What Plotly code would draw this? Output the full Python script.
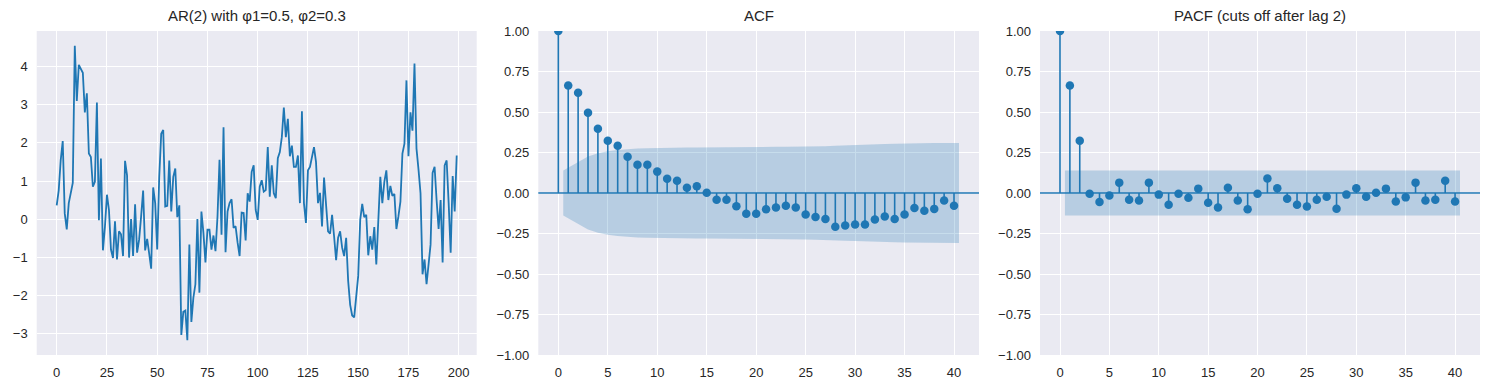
import plotly.graph_objects as go

# ---------------- data ----------------
series = [
    0.36, 0.75, 1.55, 2.05, 0.15, -0.27, 0.42, 0.65, 0.95, 4.55,
    3.10, 4.05, 3.93, 3.84, 2.80, 3.30, 1.72, 1.63, 0.85, 0.98,
    3.06, -0.03, 1.59, -0.82, -0.20, 0.64, 0.24, -0.80, -1.02, -0.06,
    -1.06, -0.32, -0.40, -0.97, 1.53, 1.15, -1.01, 0.00, -0.97, 0.39,
    -0.88, -0.54, 0.07, 0.75, -0.82, -0.52, -0.90, -1.30, 0.83, 0.42,
    -0.80, 1.10, 2.24, 2.34, 0.33, 0.35, 1.54, 0.20, 1.11, 1.33,
    0.05, 0.36, -3.04, -2.43, -2.40, -3.18, -0.67, -2.70, -2.06, -1.71,
    0.00, -1.93, 0.20, -0.36, -1.14, -0.28, -0.28, -0.80, -0.43, -0.84,
    0.07, 1.56, -0.41, 2.41, -0.87, 0.20, 0.42, 0.52, -0.23, -0.19,
    -0.62, -0.97, 0.17, 0.16, -0.56, 0.68, 0.46, 1.24, 1.41, 0.24,
    -0.02, 0.85, 1.02, 0.72, 0.76, 1.89, 0.59, 1.41, 0.68, 0.55,
    1.60, 1.76, 2.15, 2.93, 2.15, 2.63, 1.65, 1.93, 1.37, 1.37,
    1.67, 0.42, 2.83, 0.42, -0.10, 1.28, 1.37, 1.63, 1.89, 1.50,
    0.42, 0.69, -0.19, 1.09, 0.33, -0.32, -0.38, 0.11, -0.45, -1.08,
    -0.49, -0.32, -0.75, -0.97, -0.49, -1.62, -2.25, -2.53, -2.58, -2.00,
    -1.49, -0.02, 0.40, 0.05, 0.11, -0.95, -0.45, -0.80, -0.21, -1.19,
    -0.10, 1.11, 0.42, 0.98, 1.28, 0.50, 0.87, 0.61, 0.66, -0.26,
    0.07, 0.46, 1.72, 1.98, 3.64, 1.65, 2.80, 2.32, 4.08, 1.85,
    1.30, 0.68, -1.45, -1.06, -1.71, -1.14, -0.67, 1.21, 1.37, 0.50,
    -0.26, 0.50, -1.14, 1.41, 1.54, 0.42, -0.88, 1.13, 0.20, 1.67,
]

lags = list(range(41))

acf_vals = [
    1.0, 0.663, 0.619, 0.496, 0.397, 0.323, 0.292, 0.224, 0.175, 0.175,
    0.132, 0.088, 0.076, 0.033, 0.041, 0.002, -0.041, -0.041, -0.082, -0.128,
    -0.128, -0.100, -0.090, -0.078, -0.090, -0.133, -0.148, -0.160, -0.209, -0.200,
    -0.195, -0.195, -0.164, -0.145, -0.160, -0.133, -0.092, -0.109, -0.098, -0.047,
    -0.078,
]
# half-width of the ACF confidence band for lags 1..40
acf_band = [
    0.139, 0.190, 0.225, 0.246, 0.258, 0.265, 0.271, 0.275, 0.277, 0.279,
    0.280, 0.281, 0.281, 0.281, 0.281, 0.281, 0.282, 0.282, 0.282, 0.283,
    0.284, 0.285, 0.286, 0.286, 0.287, 0.288, 0.289, 0.291, 0.294, 0.296,
    0.299, 0.301, 0.303, 0.304, 0.306, 0.307, 0.308, 0.308, 0.309, 0.309,
]

pacf_vals = [
    1.0, 0.663, 0.323, -0.004, -0.056, -0.016, 0.064, -0.041, -0.047, 0.064,
    -0.010, -0.072, -0.004, -0.029, 0.027, -0.060, -0.090, 0.033, -0.047, -0.100,
    -0.004, 0.090, 0.029, -0.035, -0.072, -0.084, -0.041, -0.023, -0.097, -0.010,
    0.029, -0.023, 0.002, 0.027, -0.053, -0.027, 0.064, -0.047, -0.041, 0.076,
    -0.053,
]
pacf_band = 0.139

titles = ["AR(2) with φ1=0.5, φ2=0.3", "ACF", "PACF (cuts off after lag 2)"]

# ---------------- styling ----------------
# The page body has an 8px margin, so the figure is drawn 8px in from the
# window corner; size and positions are given in figure coordinates.
OFF = 8
W, H = 1490 - OFF, 390 - OFF
BLUE = "#1f77b4"
BG = "#EAEAF2"
TXT = "#262626"
FONT = "Liberation Sans, Arial, sans-serif"

panels_px = [(36.7 - OFF, 476.7 - OFF), (538.3 - OFF, 979.0 - OFF), (1040.0 - OFF, 1480.0 - OFF)]
top_px, bot_px = 31.0 - OFF, 355.0 - OFF
ydom = [(H - bot_px) / H, (H - top_px) / H]
title_px = 15.0 - OFF

fig = go.Figure()

# Panel 1: time series
t = list(range(len(series)))
fig.add_trace(go.Scatter(x=t, y=series, mode="lines",
                         line=dict(color=BLUE, width=1.8),
                         xaxis="x", yaxis="y", hoverinfo="skip"))


def stem_panel(vals, half, xa, ya):
    bx = [float(l) for l in lags[1:]]
    bx[0] -= 0.5
    bx[-1] += 0.5
    hi = list(half)
    lo = [-h for h in half]
    fig.add_trace(go.Scatter(x=bx + bx[::-1], y=hi + lo[::-1], mode="lines",
                             fill="toself", fillcolor="rgba(31,119,180,0.25)",
                             line=dict(width=0, color="rgba(0,0,0,0)"),
                             xaxis=xa, yaxis=ya, hoverinfo="skip"))
    sx, sy = [], []
    for l, v in zip(lags, vals):
        sx += [l, l, None]
        sy += [0, v, None]
    fig.add_trace(go.Scatter(x=sx, y=sy, mode="lines",
                             line=dict(color=BLUE, width=1.6),
                             xaxis=xa, yaxis=ya, hoverinfo="skip"))
    fig.add_trace(go.Scatter(x=lags, y=vals, mode="markers",
                             marker=dict(color=BLUE, size=8.5),
                             xaxis=xa, yaxis=ya, hoverinfo="skip"))
    fig.add_shape(type="line", xref=f"{xa} domain", yref=ya,
                  x0=0, x1=1, y0=0, y1=0,
                  line=dict(color=BLUE, width=1.6))


stem_panel(acf_vals, acf_band, "x2", "y2")
stem_panel(pacf_vals, [pacf_band] * (len(lags) - 1), "x3", "y3")

# ---------------- axes ----------------
common = dict(showgrid=True, gridcolor="white", gridwidth=1, zeroline=False,
              showline=False, ticks="", automargin=False,
              tickfont=dict(family=FONT, size=13, color=TXT),
              ticklabelstandoff=8)

n = len(series)
xpad = 0.05 * (n - 1)
ymin, ymax = min(series), max(series)
ypad = 0.05 * (ymax - ymin)
lag_hi = lags[-1] + 0.5
lpad = 0.05 * lag_hi

fig.update_layout(
    width=W, height=H,
    margin=dict(l=0, r=0, t=0, b=0, autoexpand=False),
    paper_bgcolor="white", plot_bgcolor=BG,
    showlegend=False,
    font=dict(family=FONT, color=TXT),
)

fig.update_layout(
    xaxis=dict(domain=[panels_px[0][0] / W, panels_px[0][1] / W], anchor="y",
               range=[-xpad, n - 1 + xpad], tick0=0, dtick=25, **common),
    yaxis=dict(domain=ydom, anchor="x", range=[ymin - ypad, ymax + ypad],
               tick0=0, dtick=1, **common),
    xaxis2=dict(domain=[panels_px[1][0] / W, panels_px[1][1] / W], anchor="y2",
                range=[-lpad, lag_hi + lpad], tick0=0, dtick=5, **common),
    yaxis2=dict(domain=ydom, anchor="x2", range=[-1, 1], tick0=0, dtick=0.25,
                tickformat=".2f", **common),
    xaxis3=dict(domain=[panels_px[2][0] / W, panels_px[2][1] / W], anchor="y3",
                range=[-lpad, lag_hi + lpad], tick0=0, dtick=5, **common),
    yaxis3=dict(domain=ydom, anchor="x3", range=[-1, 1], tick0=0, dtick=0.25,
                tickformat=".2f", **common),
)

for (l, r), title in zip(panels_px, titles):
    fig.add_annotation(text=title, xref="paper", yref="paper",
                       x=(l + r) / 2 / W, y=(H - title_px) / H,
                       xanchor="center", yanchor="middle", showarrow=False,
                       font=dict(family=FONT, size=15, color=TXT))

fig.write_html("out.html")
